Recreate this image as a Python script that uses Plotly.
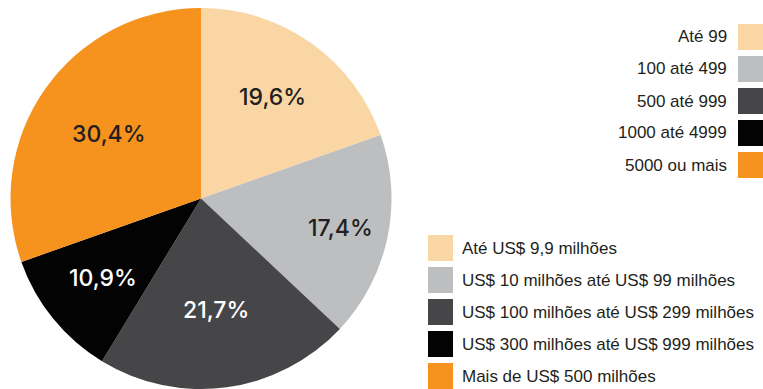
import math
import plotly.graph_objects as go

# Slice shares (percent), clockwise from 12 o'clock
shares = [19.6, 17.4, 21.7, 10.9, 30.4]
colors = ["#FAD6A5", "#BCBEC0", "#464648", "#030303", "#F6921E"]
label_colors = ["#231F20", "#231F20", "#FFFFFF", "#FFFFFF", "#231F20"]

# Legend for revenue bands (bottom) and headcount bands (top right)
revenue_labels = [
    "Até US$ 9,9 milhões",
    "US$ 10 milhões até US$ 99 milhões",
    "US$ 100 milhões até US$ 299 milhões",
    "US$ 300 milhões até US$ 999 milhões",
    "Mais de US$ 500 milhões",
]
size_labels = ["Até 99", "100 até 499", "500 até 999", "1000 até 4999", "5000 ou mais"]

W, H = 763, 389
FONT = "Liberation Sans, Arial, Helvetica, sans-serif"
LABEL_FONT = "Inter, Liberation Sans, Arial, sans-serif"
TEXT_COLOR = "#231F20"

# pie geometry in pixels
CX, CY_TOP, CY_BOT = 201, 8, 389
x0_px, x1_px = CX - (CY_BOT - CY_TOP) / 2, CX + (CY_BOT - CY_TOP) / 2
R = (CY_BOT - CY_TOP) / 2
CY = CY_TOP + R

# how far out (fraction of radius) each percentage label sits
label_radius = [0.65, 0.75, 0.59, 0.66, 0.59]

texts = [f"{v:.1f}%".replace(".", ",") for v in shares]

fig = go.Figure(
    go.Pie(
        values=shares,
        labels=revenue_labels,
        textinfo="none",
        marker=dict(colors=colors, line=dict(width=0)),
        sort=False,
        direction="clockwise",
        rotation=0,
        showlegend=False,
        hoverinfo="skip",
        domain=dict(x=[x0_px / W, x1_px / W], y=[1 - CY_BOT / H, 1 - CY_TOP / H]),
    )
)


def px_x(x):
    return x / W


def px_y(y):
    return 1 - y / H


shapes = []
annotations = []

# percentage labels at each slice's mid-angle
total = sum(shares)
cum = 0.0
for v, t, c, rf in zip(shares, texts, label_colors, label_radius):
    mid = (cum + v / 2) / total * 2 * math.pi
    cum += v
    lx = CX + rf * R * math.sin(mid)
    ly = CY - rf * R * math.cos(mid)
    annotations.append(dict(text=t, xref="paper", yref="paper",
                            x=px_x(lx), y=px_y(ly), xanchor="center", yanchor="middle",
                            showarrow=False,
                            font=dict(family=LABEL_FONT, size=23, color=c, weight=500)))

sw, sh, step = 25, 26, 32

# top-right legend: text to the left, swatch at the right edge
for i, (lab, col) in enumerate(zip(size_labels, colors)):
    cy = 37 + i * step
    shapes.append(dict(type="rect", xref="paper", yref="paper",
                       x0=px_x(738), x1=px_x(763),
                       y0=px_y(cy + sh / 2), y1=px_y(cy - sh / 2),
                       fillcolor=col, line=dict(width=0)))
    annotations.append(dict(text=lab, xref="paper", yref="paper",
                            x=px_x(729), y=px_y(cy), xanchor="right", yanchor="middle",
                            showarrow=False,
                            font=dict(family=FONT, size=17, color=TEXT_COLOR)))

# bottom legend: swatch on the left, text to the right
for i, (lab, col) in enumerate(zip(revenue_labels, colors)):
    cy = 248 + i * step
    shapes.append(dict(type="rect", xref="paper", yref="paper",
                       x0=px_x(428), x1=px_x(453),
                       y0=px_y(cy + sh / 2), y1=px_y(cy - sh / 2),
                       fillcolor=col, line=dict(width=0)))
    annotations.append(dict(text=lab, xref="paper", yref="paper",
                            x=px_x(460), y=px_y(cy), xanchor="left", yanchor="middle",
                            showarrow=False,
                            font=dict(family=FONT, size=17, color=TEXT_COLOR)))

fig.update_layout(
    width=W, height=H,
    margin=dict(l=0, r=0, t=0, b=0),
    paper_bgcolor="white", plot_bgcolor="white",
    shapes=shapes, annotations=annotations,
)

fig.write_html("out.html")
